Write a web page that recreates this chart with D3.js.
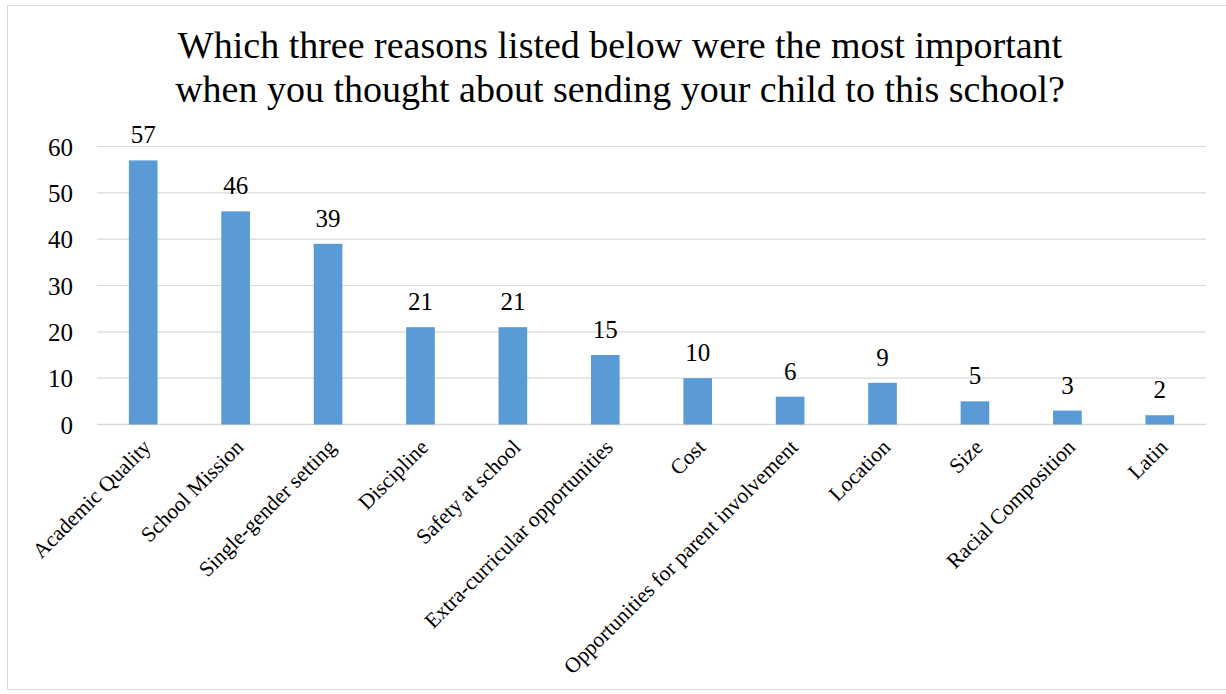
<!DOCTYPE html>
<meta charset="utf-8">
<style>
body { margin: 0; background: #fff; }
text { font-family: "Liberation Serif", "Times New Roman", serif; fill: #000; }
</style>
<svg id="chart" width="1226" height="694"></svg>
<script src="https://cdnjs.cloudflare.com/ajax/libs/d3/7.8.5/d3.min.js"></script>
<script>

var reasons = ["Academic Quality", "School Mission", "Single-gender setting", "Discipline",
  "Safety at school", "Extra-curricular opportunities", "Cost",
  "Opportunities for parent involvement", "Location", "Size", "Racial Composition", "Latin"];
var counts = [57, 46, 39, 21, 21, 15, 10, 6, 9, 5, 3, 2];
var yTicks = [0, 10, 20, 30, 40, 50, 60];
var titleLines = ["Which three reasons listed below were the most important",
  "when you thought about sending your child to this school?"];

var svg = d3.select("#chart"),
    margin = {top: 146.5, right: 20, bottom: 269, left: 97},
    width = 1206 - margin.left,
    height = 424.5 - margin.top;

// chart frame
svg.append("rect")
    .attr("x", 7.5).attr("y", 5.5)
    .attr("width", 1230).attr("height", 684)
    .attr("fill", "none")
    .attr("stroke", "#d9d9d9");

svg.selectAll(".title")
    .data(titleLines)
  .enter().append("text")
    .attr("class", "title")
    .attr("x", 620)
    .attr("y", function(d, i) { return 58 + i * 44; })
    .attr("text-anchor", "middle")
    .style("font-size", "38px")
    .text(function(d) { return d; });

var g = svg.append("g")
    .attr("transform", "translate(" + margin.left + "," + margin.top + ")");

var x = d3.scaleBand()
    .domain(reasons)
    .range([0, width])
    .paddingInner(0.69)
    .paddingOuter(0.345);

var y = d3.scaleLinear()
    .domain([0, 60])
    .range([height, 0]);

// gridlines
g.append("g")
  .selectAll("line")
    .data(yTicks)
  .enter().append("line")
    .attr("x1", 0).attr("x2", width)
    .attr("y1", function(d) { return y(d); })
    .attr("y2", function(d) { return y(d); })
    .attr("stroke", "#d9d9d9")
    .attr("stroke-width", function(d) { return d === 0 ? 1.5 : 1.2; });

var yAxis = g.append("g")
    .call(d3.axisLeft(y).tickValues(yTicks).tickSize(0).tickPadding(24));
yAxis.select(".domain").remove();
yAxis.selectAll("text")
    .style("font-family", "'Liberation Serif', 'Times New Roman', serif")
    .style("font-size", "25px")
    .attr("dy", "0.35em");

g.selectAll(".bar")
    .data(counts)
  .enter().append("rect")
    .attr("class", "bar")
    .attr("x", function(d, i) { return x(reasons[i]); })
    .attr("y", function(d) { return y(d); })
    .attr("width", x.bandwidth())
    .attr("height", function(d) { return height - y(d); })
    .attr("fill", "#5b9bd5");

g.selectAll(".value")
    .data(counts)
  .enter().append("text")
    .attr("class", "value")
    .attr("x", function(d, i) { return x(reasons[i]) + x.bandwidth() / 2; })
    .attr("y", function(d) { return y(d) - 17; })
    .attr("text-anchor", "middle")
    .style("font-size", "25px")
    .text(function(d) { return d; });

g.selectAll(".cat")
    .data(reasons)
  .enter().append("text")
    .attr("class", "cat")
    .attr("text-anchor", "end")
    .attr("transform", function(d) {
      var cx = x(d) + x.bandwidth() / 2 + 9;
      return "translate(" + cx + "," + (height + 24) + ") rotate(-45)";
    })
    .style("font-size", "21.5px")
    .text(function(d) { return d; });

</script>
